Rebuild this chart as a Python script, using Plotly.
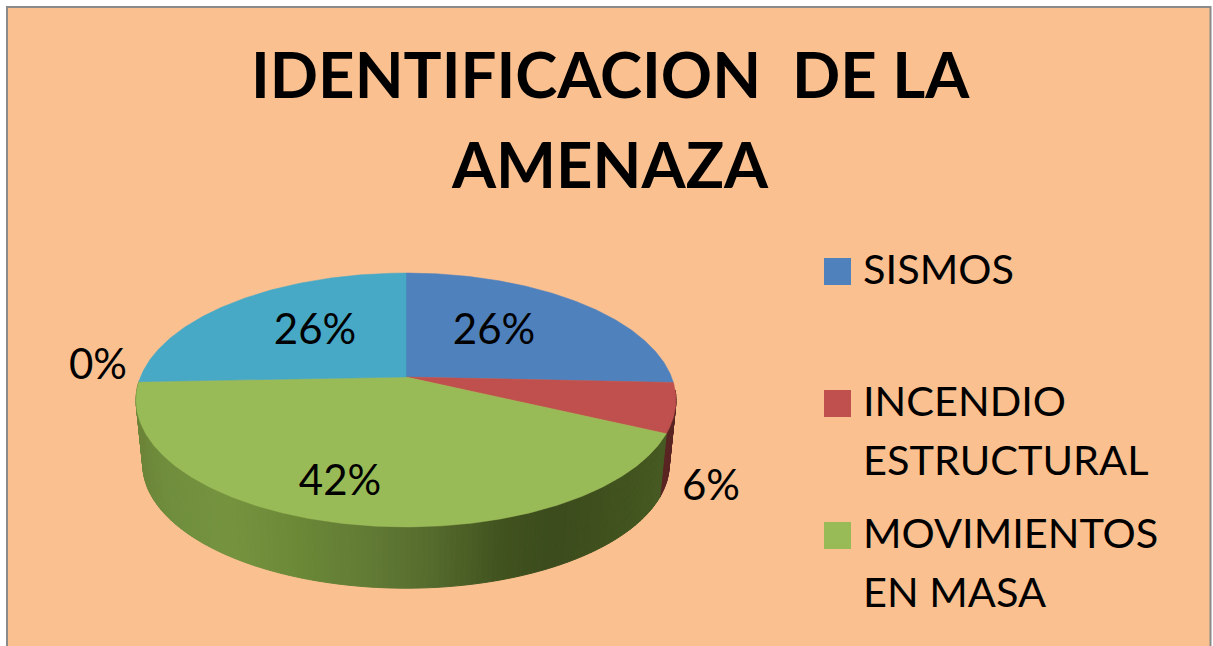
import numpy as np
import plotly.graph_objects as go

CATEGORIES = ["SISMOS", "INCENDIO\nESTRUCTURAL", "MOVIMIENTOS\nEN MASA", "", ""]
VALUES = [25.7, 6.3, 42.4, 0, 25.6]
TOP_COLORS = ["#4F81BD", "#C0504D", "#99BB57", "#8064A2", "#47A9C5"]
TITLE_LINES = ["IDENTIFICACION\u00a0 DE LA", "AMENAZA"]
LABEL_X = [494, 711, 340, 98, 315]
LABEL_Y = [333, 489, 484, 368, 333]
LEGEND_Y = [271.5, 403.5, 535.5]
WALL_STOPS_X = [136, 165, 229, 302, 356, 429, 502, 556, 629, 676]
WALL_STOPS_G = [(108,133,56), (112,143,62), (118,148,64), (106,136,54), (100,126,54), (86,108,46), (65,83,31), (60,76,29), (66,84,31), (72,92,36)]
RED_WALL = "#5a2422"

BG = "#FAC090"
XC, YC, A, K, P = 406.0, 377.0, 265.5, 122.8, -0.181
SHRINK, YC2 = 0.975, 442.0


def rim(theta_deg, bottom=False):
    t = np.radians(theta_deg)
    s = -np.cos(t)
    d = 1 + P * s
    x = A * np.sin(t) / d
    y = K * s / d
    if bottom:
        return XC + SHRINK * x, YC2 + SHRINK * y
    return XC + x, YC + y


def wall_green(x):
    return "rgb(%d,%d,%d)" % tuple(
        np.interp(x, WALL_STOPS_X, [c[i] for c in WALL_STOPS_G]) for i in range(3)
    )


fig = go.Figure()
edges = np.cumsum([0] + VALUES) * 3.6

# side wall, drawn as narrow strips around the front rim
for i in [1, 2]:
    a0, a1 = max(edges[i], 96.0), min(edges[i + 1], 268.0)
    steps = np.arange(a0, a1, 1.0).tolist() + [a1]
    for t0, t1 in zip(steps[:-1], steps[1:]):
        xt, yt = rim(np.array([t0, t1]))
        xb, yb = rim(np.array([t1, t0]), bottom=True)
        col = RED_WALL if i == 1 else wall_green((xt[0] + xt[1]) / 2)
        fig.add_trace(go.Scatter(
            x=list(xt) + list(xb) + [xt[0]], y=list(yt) + list(yb) + [yt[0]],
            mode="lines", fill="toself", fillcolor=col,
            line=dict(color=col, width=1), hoverinfo="skip", showlegend=False))

# top face wedges
for i, v in enumerate(VALUES):
    if v == 0:
        continue
    th = np.linspace(edges[i], edges[i + 1], max(int(v * 6), 8))
    x, y = rim(th)
    fig.add_trace(go.Scatter(
        x=[XC] + list(x) + [XC], y=[YC] + list(y) + [YC],
        mode="lines", fill="toself", fillcolor=TOP_COLORS[i],
        line=dict(color=TOP_COLORS[i], width=0.5), hoverinfo="skip", showlegend=False))

# value labels
fig.add_trace(go.Scatter(
    x=LABEL_X, y=LABEL_Y, mode="text", text=[f"{v:.0f}%" for v in VALUES],
    textfont=dict(family="Lato", size=42, color="#000000"),
    textposition="middle center", hoverinfo="skip", showlegend=False))

# legend swatches
fig.add_trace(go.Scatter(
    x=[837.5] * 3, y=LEGEND_Y, mode="markers",
    marker=dict(symbol="square", size=27, color=TOP_COLORS[:3], line=dict(width=0)),
    hoverinfo="skip", showlegend=False))

annotations = []
for name, y0 in zip(CATEGORIES[:3], LEGEND_Y):
    for j, line in enumerate(name.split("\n")):
        annotations.append(dict(
            x=864, y=y0 - 3.5 + j * 59, xref="x", yref="y", text=line, showarrow=False,
            xanchor="left", yanchor="middle",
            font=dict(family="Lato", size=41.5, color="#000000"), borderpad=0, xshift=-2))
for line, y0 in zip(TITLE_LINES, [73, 163]):
    annotations.append(dict(
        x=610, y=y0, xref="x", yref="y", text=f"<b>{line}</b>", showarrow=False,
        xanchor="center", yanchor="middle",
        font=dict(family="Lato", size=63.5, color="#000000")))

fig.update_layout(
    width=1213, height=646, autosize=False,
    margin=dict(l=0, r=0, t=0, b=0),
    paper_bgcolor="#FFFFFF", plot_bgcolor="#FFFFFF",
    xaxis=dict(range=[0, 1213], visible=False, fixedrange=True),
    yaxis=dict(range=[646, 0], visible=False, fixedrange=True),
    annotations=annotations,
    shapes=[dict(type="rect", xref="x", yref="y", x0=7, y0=7, x1=1210.5, y1=660,
                 fillcolor=BG, line=dict(color="#8A8A8A", width=2), layer="below")],
)
fig.write_html("out.html", config={"displayModeBar": False},
               post_script="document.body.style.margin='0';document.body.style.overflow='hidden';")
